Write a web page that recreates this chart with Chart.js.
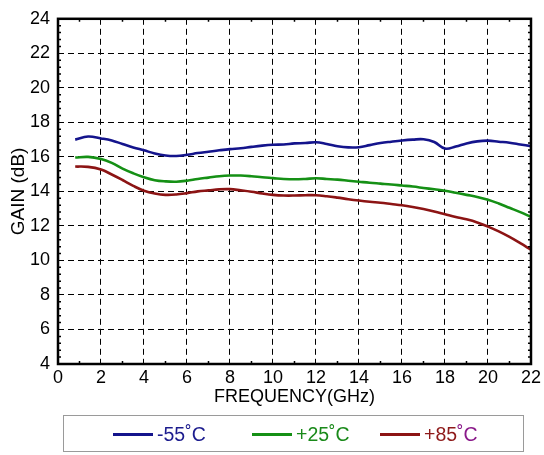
<!DOCTYPE html>
<html>
<head>
<meta charset="utf-8">
<script src="https://cdn.jsdelivr.net/npm/chart.js@4.4.1/dist/chart.umd.min.js"></script>
<style>
body{margin:0;background:#fff;font-family:"Liberation Sans",Arial,sans-serif}
#wrap{position:relative;width:544px;height:455px}
#legend{position:absolute;left:63px;top:415px;width:461px;height:37px;border:1px solid #9a9a9a;box-sizing:border-box}
.item{position:absolute;top:0;height:37px;line-height:37px;font-size:19.5px;white-space:nowrap}
.item span.ln{display:inline-block;width:40px;height:3px;vertical-align:middle;margin-right:4px;position:relative;top:-1px}
</style>
</head>
<body>
<div id="wrap">
<canvas id="chart" width="544" height="455"></canvas>
<div id="legend">
<div class="item" style="left:49px;color:#1c1c8e"><span class="ln" style="background:#14148c"></span>-55˚C</div>
<div class="item" style="left:188px;color:#1a8a1a"><span class="ln" style="background:#159015"></span>+25˚C</div>
<div class="item" style="left:316px;color:#8e1a1a"><span class="ln" style="background:#8c1414"></span>+85<span style="color:#8a1a8a">˚C</span></div>
</div>
</div>

<script>

// frequency points (GHz)
let freq=[0.8,1.4,2,2.5,3,3.5,4,4.5,5,5.5,6,6.5,7,7.5,8,8.5,9,9.5,10,10.5,11,11.5,12,12.5,13,13.5,14,14.5,15,15.5,16,16.5,17,17.5,18,18.5,19,19.5,20,20.5,21,21.5,22]

// gain in dB at each temperature
let gainCold=[17.0,17.18,17.07,16.95,16.75,16.55,16.38,16.2,16.08,16.05,16.12,16.22,16.3,16.38,16.45,16.5,16.58,16.65,16.7,16.72,16.78,16.8,16.85,16.75,16.62,16.55,16.56,16.68,16.8,16.88,16.95,17.0,17.02,16.86,16.48,16.6,16.78,16.9,16.94,16.88,16.82,16.72,16.62]
let gainRoom=[15.96,16.0,15.88,15.65,15.32,15.05,14.82,14.65,14.58,14.56,14.62,14.72,14.8,14.88,14.92,14.92,14.88,14.82,14.77,14.72,14.7,14.72,14.76,14.72,14.68,14.62,14.56,14.5,14.45,14.4,14.34,14.28,14.2,14.12,14.04,13.92,13.8,13.68,13.52,13.3,13.05,12.8,12.52]
let gainHot=[15.44,15.42,15.27,14.98,14.66,14.32,14.04,13.88,13.8,13.82,13.9,14.0,14.06,14.12,14.13,14.06,13.98,13.88,13.8,13.76,13.76,13.78,13.78,13.72,13.64,13.55,13.47,13.4,13.34,13.27,13.2,13.1,12.98,12.84,12.68,12.52,12.38,12.2,11.96,11.68,11.36,11.0,10.62]

let seriesNames=["-55˚C","+25˚C","+85˚C"]

function points(vals){
return freq.map((f,i)=>({x:f,y:vals[i]}))
}

// frame and the small inward minor ticks
const framePlugin={
id:"frame",
afterDraw(chart){
let ctx=chart.ctx
let a=chart.chartArea
let xs=chart.scales.x
let ys=chart.scales.y
ctx.save()
ctx.strokeStyle="#000"
ctx.lineWidth=1.5
ctx.beginPath()
for(let v=1;v<22;v+=2){
let px=xs.getPixelForValue(v)
ctx.moveTo(px,a.bottom);ctx.lineTo(px,a.bottom-3)
ctx.moveTo(px,a.top);ctx.lineTo(px,a.top+3)
}
for(let k=1;k<50;k++){
if(k%5==0) continue
let py=ys.getPixelForValue(4+k*0.4)
ctx.moveTo(a.left,py);ctx.lineTo(a.left+3,py)
ctx.moveTo(a.right,py);ctx.lineTo(a.right-3,py)
}
ctx.stroke()
ctx.lineWidth=2.5
ctx.strokeRect(a.left,a.top,a.right-a.left,a.bottom-a.top)
ctx.restore()
}
}

let font={family:"'Liberation Sans', Arial, sans-serif",size:18}

new Chart(document.getElementById("chart"),{
type:"line",
data:{
datasets:[
{label:seriesNames[0],data:points(gainCold),borderColor:"#14148c"},
{label:seriesNames[1],data:points(gainRoom),borderColor:"#159015"},
{label:seriesNames[2],data:points(gainHot),borderColor:"#8c1414"}
]
},
options:{
responsive:false,
animation:false,
layout:{padding:{left:0,right:11,top:9,bottom:41}},
elements:{
line:{borderWidth:2.6,tension:0.4,fill:false},
point:{radius:0}
},
plugins:{legend:{display:false},tooltip:{enabled:false}},
scales:{
x:{
type:"linear",min:0,max:22,
ticks:{stepSize:2,color:"#000",font:font,padding:3,maxRotation:0},
grid:{color:"#000",lineWidth:1,drawTicks:false},
border:{display:false,dash:[6,4]},
title:{display:true,text:"FREQUENCY(GHz)",color:"#000",font:font,padding:{top:0,bottom:6}},
afterFit(s){s.height=50}
},
y:{
min:4,max:24,
ticks:{stepSize:2,color:"#000",font:font,padding:8},
grid:{color:"#000",lineWidth:1,drawTicks:false},
border:{display:false,dash:[6,4]},
title:{display:true,text:"GAIN (dB)",color:"#000",font:{family:font.family,size:19},padding:{top:7,bottom:0}},
afterFit(s){s.width=58}
}
}
},
plugins:[framePlugin]
})

</script>
</body>
</html>
